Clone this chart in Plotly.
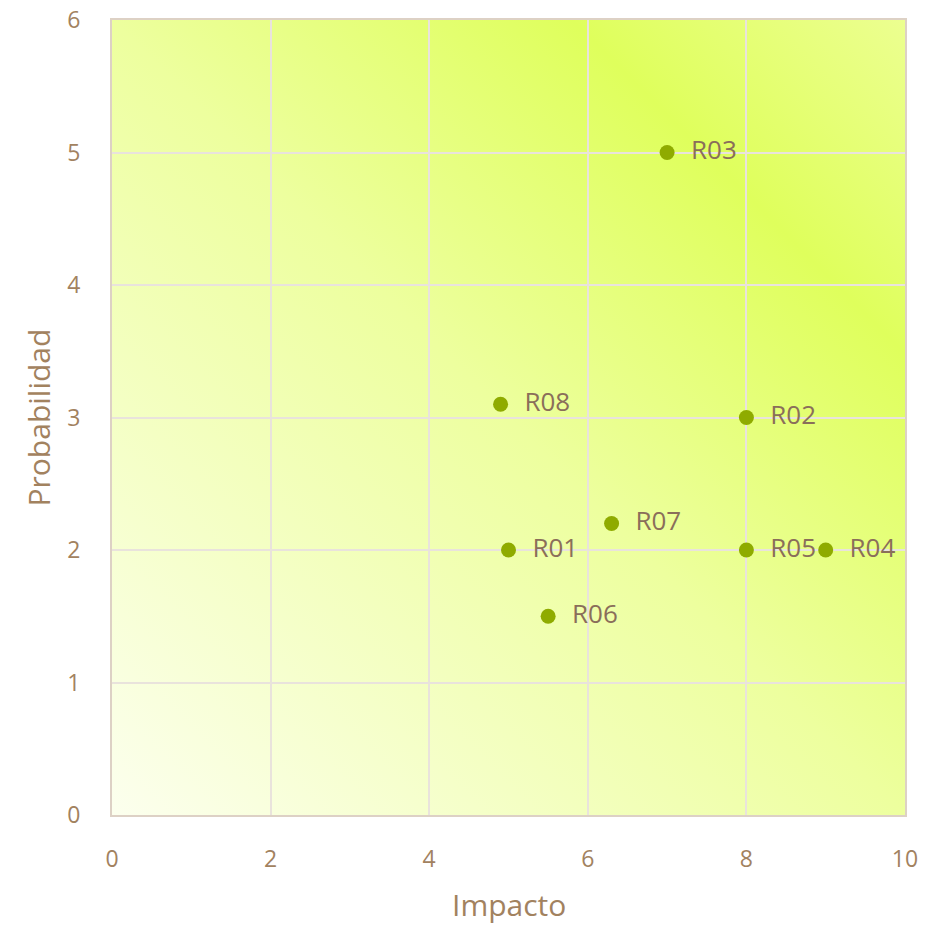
import base64
import plotly.graph_objects as go

# Data
labels = ["R01", "R02", "R03", "R04", "R05", "R06", "R07", "R08"]
impacto = [5, 8, 7, 9, 8, 5.5, 6.3, 4.9]
probabilidad = [2, 3, 5, 2, 2, 1.5, 2.2, 3.1]

x_ticks = [0, 2, 4, 6, 8, 10]
y_ticks = [0, 1, 2, 3, 4, 5, 6]

# Gradient background as SVG image
svg = """<svg xmlns='http://www.w3.org/2000/svg' width='800' height='800' viewBox='0 0 800 800' preserveAspectRatio='none'>
<defs><linearGradient id='g' x1='0' y1='1' x2='1' y2='0'>
<stop offset='0' stop-color='#fcffee'/>
<stop offset='0.5' stop-color='#edff9e'/>
<stop offset='0.79' stop-color='#dfff5c'/>
<stop offset='1' stop-color='#ecff90'/>
</linearGradient></defs>
<rect x='0' y='0' width='800' height='800' fill='url(#g)'/>
</svg>"""
src = "data:image/svg+xml;base64," + base64.b64encode(svg.encode()).decode()

tick_color = "#a2825f"
label_color = "#8a6e5a"

fig = go.Figure()
fig.add_trace(go.Scatter(
    x=impacto, y=probabilidad,
    mode="markers+text",
    text=["  " + l for l in labels],
    textposition="middle right",
    textfont=dict(family="Open Sans", size=26, color=label_color),
    marker=dict(size=15, color="#8fab00"),
    cliponaxis=False,
    hoverinfo="skip",
))

fig.update_layout(
    width=930, height=925,
    margin=dict(l=112, r=25, t=20, b=110),
    paper_bgcolor="white",
    plot_bgcolor="rgba(0,0,0,0)",
    showlegend=False,
    font=dict(family="Open Sans", color=tick_color),
    images=[dict(source=src, xref="paper", yref="paper", x=0, y=1,
                 sizex=1, sizey=1, sizing="stretch", layer="below",
                 xanchor="left", yanchor="top")],
    annotations=[
        dict(text="Impacto", xref="paper", yref="paper", x=0.5, y=0,
             xanchor="center", yanchor="middle", yshift=-89, showarrow=False,
             font=dict(size=30, color=tick_color)),
        dict(text="Probabilidad", xref="paper", yref="paper", x=0, y=0.5,
             xanchor="center", yanchor="middle", xshift=-74, textangle=-90,
             showarrow=False, font=dict(size=30, color=tick_color)),
    ],
)
fig.update_xaxes(
    range=[0, 10], tickvals=x_ticks, ticktext=[str(v) for v in x_ticks],
    showgrid=True, gridcolor="#e9e3dc", gridwidth=2,
    showline=True, linecolor="#ddd1c5", linewidth=2, mirror=True,
    zeroline=False, ticks="", ticklabelstandoff=22, automargin=False,
    tickfont=dict(size=23, color=tick_color),
)
fig.update_yaxes(
    range=[0, 6], tickvals=y_ticks, ticktext=[str(v) for v in y_ticks],
    showgrid=True, gridcolor="#e9e3dc", gridwidth=2,
    showline=True, linecolor="#ddd1c5", linewidth=2, mirror=True,
    zeroline=False, ticks="", ticklabelstandoff=25, automargin=False,
    tickfont=dict(size=23, color=tick_color),
)

fig.write_html(
    "out.html",
    config={"displayModeBar": False, "responsive": False},
    post_script="document.body.style.margin='0';document.body.style.overflow='hidden';",
)
